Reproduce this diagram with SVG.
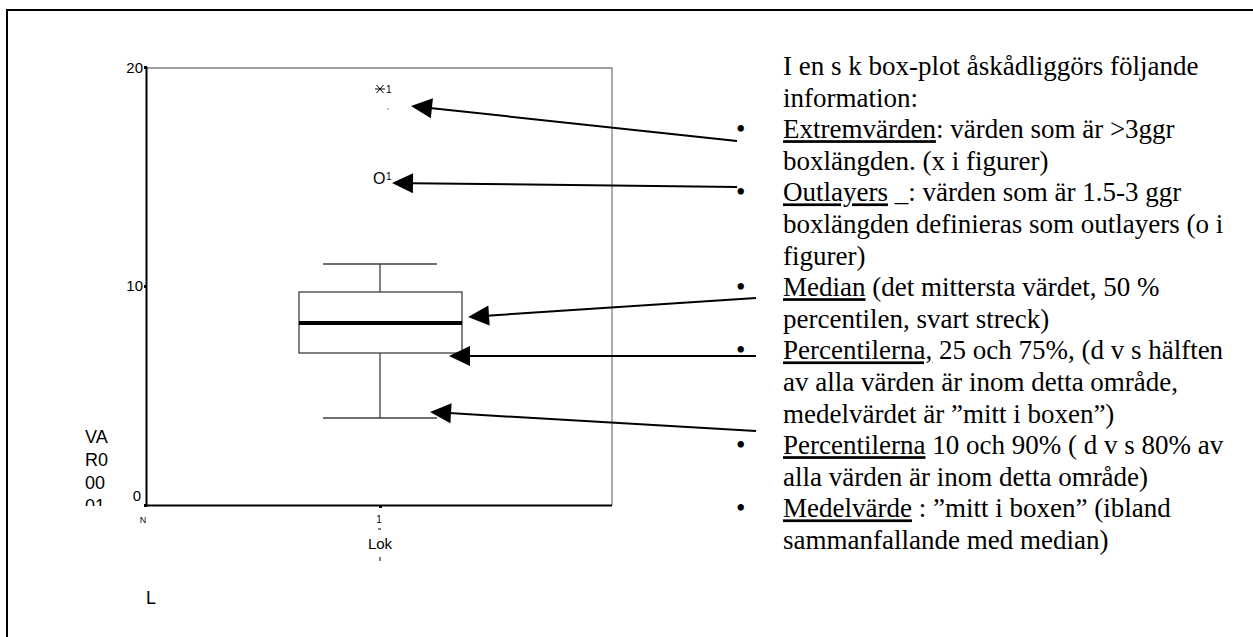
<svg xmlns="http://www.w3.org/2000/svg" width="1253" height="637" viewBox="0 0 1253 637">
<style>
.frame{stroke:#000;stroke-width:2;fill:none}
.axis{stroke:#000;stroke-width:2;fill:none}
.border{stroke:#808080;stroke-width:1.3;fill:none}
.plot{stroke:#404040;stroke-width:1.3;fill:none}
.sans{font-family:"Liberation Sans",Arial,sans-serif;fill:#000}
.serif{font-family:"Liberation Serif","Times New Roman",serif;font-size:27px;fill:#000}
.arrow{stroke:#000;stroke-width:2;fill:none;marker-end:url(#ah)}
.u{text-decoration:underline}
</style>
<defs>
<marker id="ah" markerUnits="userSpaceOnUse" markerWidth="21" markerHeight="20" refX="2" refY="10" orient="auto" overflow="visible">
<path d="M0,0 L21,10 L0,20 z" fill="#000"/>
</marker>
</defs>
<rect width="1253" height="637" fill="#fff"/>
<g id="frame">
<path class="frame" d="M7,637 L7,10 L1253,10"/>
</g>
<g id="chart">
<path class="border" d="M146,68 L612,68 L612,505"/>
<path class="axis" d="M146.5,67 L146.5,505.5 L612,505.5"/>
<rect x="144" y="66" width="3" height="3" fill="#000"/>
<rect x="144" y="285" width="3" height="3" fill="#000"/>
<rect x="144" y="504" width="3" height="3" fill="#000"/>
<rect x="379" y="505" width="3" height="3" fill="#000"/>
<text class="sans" x="143" y="73" font-size="15" text-anchor="end">20</text>
<text class="sans" x="143" y="291" font-size="15" text-anchor="end">10</text>
<text class="sans" x="141" y="501" font-size="15" text-anchor="end">0</text>
<text class="sans" x="143" y="523" font-size="9" text-anchor="middle">N</text>
<text class="sans" x="379" y="523" font-size="10" text-anchor="middle">1</text>
<line x1="378" y1="529" x2="381" y2="529" stroke="#000" stroke-width="1"/>
<text class="sans" x="380" y="549" font-size="15" text-anchor="middle">Lok</text>
<line x1="380" y1="557" x2="380" y2="561" stroke="#000" stroke-width="1"/>
<text class="sans" font-size="18" x="85"><tspan x="85" y="443">VA</tspan><tspan x="85" y="466">R0</tspan><tspan x="85" y="489">00</tspan></text>
<clipPath id="clip01"><rect x="80" y="490" width="40" height="16"/></clipPath>
<text class="sans" font-size="18" x="85" y="512" clip-path="url(#clip01)">01</text>
<text class="sans" x="146" y="604" font-size="18">L</text>
</g>
<g id="boxplot">
<line class="plot" x1="323" y1="264" x2="437" y2="264"/>
<line class="plot" x1="380" y1="264" x2="380" y2="292"/>
<rect class="plot" x="299" y="292" width="163" height="61"/>
<line x1="299" y1="323" x2="462" y2="323" stroke="#000" stroke-width="4"/>
<line class="plot" x1="380" y1="353" x2="380" y2="418"/>
<line class="plot" x1="323" y1="418" x2="437" y2="418"/>
</g>
<g id="extreme">
<path d="M375,89 L385,89 M376.5,85 L383.5,93 M383.5,85 L376.5,93" stroke="#000" stroke-width="1"/>
<text class="sans" x="386" y="93" font-size="10">1</text>
<rect x="387.5" y="108.5" width="1" height="1" fill="#000"/>
</g>
<g id="outlier">
<text class="sans" x="373" y="184" font-size="16">O</text>
<text class="sans" x="386" y="180" font-size="10">1</text>
</g>
<g id="connectors">
<line class="arrow" x1="737" y1="141" x2="429.9" y2="108"/>
<line class="arrow" x1="737" y1="187" x2="411" y2="183.2"/>
<line class="arrow" x1="756" y1="298" x2="487" y2="315.7"/>
<line class="arrow" x1="756" y1="356" x2="468" y2="356"/>
<line class="arrow" x1="756" y1="431" x2="449" y2="413.1"/>
</g>
<g id="legend">
<text class="serif" x="783" y="75">I en s k box-plot åskådliggörs följande</text>
<text class="serif" x="783" y="106.6">information:</text>
<text class="serif" x="736" y="138.2">•</text>
<text class="serif" x="783" y="138.2"><tspan class="u">Extremvärden</tspan>: värden som är &gt;3ggr</text>
<text class="serif" x="783" y="169.8">boxlängden. (x i figurer)</text>
<text class="serif" x="736" y="201.4">•</text>
<text class="serif" x="783" y="201.4"><tspan class="u">Outlayers</tspan> _: värden som är 1.5-3 ggr</text>
<text class="serif" x="783" y="233">boxlängden definieras som outlayers (o i</text>
<text class="serif" x="783" y="264.6">figurer)</text>
<text class="serif" x="736" y="296.2">•</text>
<text class="serif" x="783" y="296.2"><tspan class="u">Median</tspan> (det mittersta värdet, 50 %</text>
<text class="serif" x="783" y="327.8">percentilen, svart streck)</text>
<text class="serif" x="736" y="359.4">•</text>
<text class="serif" x="783" y="359.4"><tspan class="u">Percentilerna,</tspan> 25 och 75%, (d v s hälften</text>
<text class="serif" x="783" y="391">av alla värden är inom detta område,</text>
<text class="serif" x="783" y="422.6">medelvärdet är ”mitt i boxen”)</text>
<text class="serif" x="736" y="454.2">•</text>
<text class="serif" x="783" y="454.2"><tspan class="u">Percentilerna</tspan> 10 och 90% ( d v s 80% av</text>
<text class="serif" x="783" y="485.8">alla värden är inom detta område)</text>
<text class="serif" x="736" y="517.4">•</text>
<text class="serif" x="783" y="517.4"><tspan class="u">Medelvärde</tspan> : ”mitt i boxen” (ibland</text>
<text class="serif" x="783" y="549">sammanfallande med median)</text>
</g>
</svg>
